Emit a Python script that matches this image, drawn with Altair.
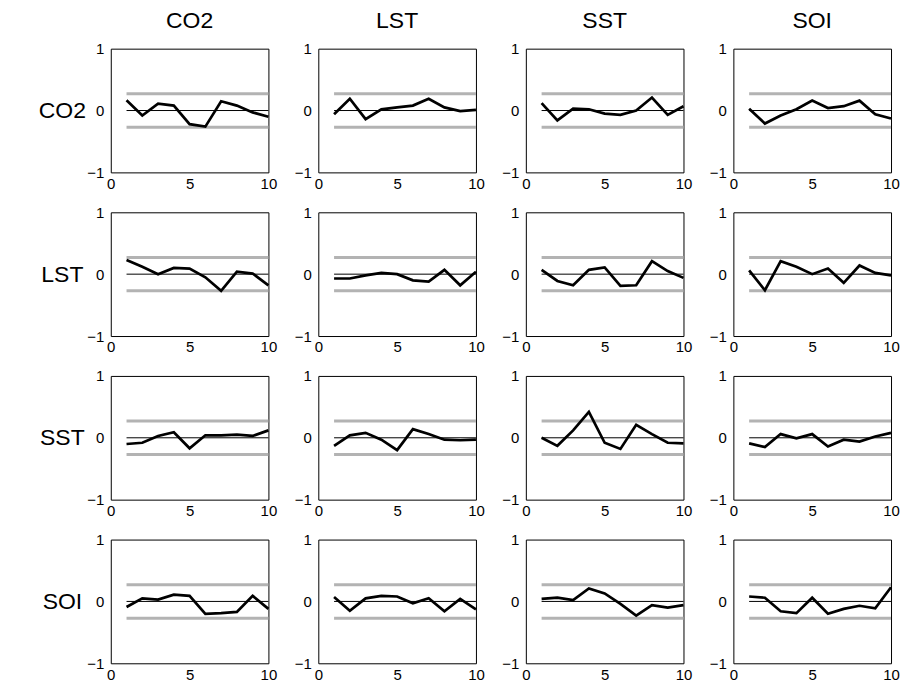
import altair as alt
import pandas as pd

variables = ["CO2", "LST", "SST", "SOI"]
lags = [1, 2, 3, 4, 5, 6, 7, 8, 9, 10]
conf_bound = 0.27

# cross-correlations: row variable vs column variable
ccf_CO2_CO2 = [0.165, -0.08, 0.11, 0.08, -0.22, -0.26, 0.15, 0.08, -0.03, -0.10]
ccf_CO2_LST = [-0.06, 0.19, -0.14, 0.02, 0.05, 0.08, 0.19, 0.05, -0.01, 0.01]
ccf_CO2_SST = [0.12, -0.16, 0.03, 0.02, -0.05, -0.07, 0.00, 0.21, -0.07, 0.07]
ccf_CO2_SOI = [0.03, -0.21, -0.08, 0.02, 0.16, 0.04, 0.07, 0.16, -0.06, -0.13]

ccf_LST_CO2 = [0.23, 0.12, 0.00, 0.10, 0.09, -0.05, -0.27, 0.04, 0.01, -0.18]
ccf_LST_LST = [-0.07, -0.07, -0.02, 0.02, 0.00, -0.10, -0.12, 0.07, -0.18, 0.04]
ccf_LST_SST = [0.07, -0.11, -0.18, 0.07, 0.11, -0.19, -0.18, 0.21, 0.05, -0.06]
ccf_LST_SOI = [0.06, -0.26, 0.21, 0.12, 0.00, 0.09, -0.14, 0.14, 0.02, -0.02]

ccf_SST_CO2 = [-0.10, -0.08, 0.03, 0.09, -0.17, 0.04, 0.04, 0.05, 0.03, 0.12]
ccf_SST_LST = [-0.13, 0.04, 0.08, -0.03, -0.20, 0.14, 0.06, -0.03, -0.04, -0.03]
ccf_SST_SST = [0.00, -0.13, 0.12, 0.42, -0.08, -0.18, 0.21, 0.06, -0.08, -0.09]
ccf_SST_SOI = [-0.09, -0.15, 0.06, -0.01, 0.06, -0.14, -0.03, -0.06, 0.02, 0.08]

ccf_SOI_CO2 = [-0.09, 0.05, 0.03, 0.11, 0.09, -0.20, -0.19, -0.17, 0.09, -0.12]
ccf_SOI_LST = [0.07, -0.15, 0.05, 0.09, 0.08, -0.03, 0.05, -0.16, 0.04, -0.13]
ccf_SOI_SST = [0.04, 0.06, 0.02, 0.21, 0.13, -0.04, -0.23, -0.06, -0.10, -0.06]
ccf_SOI_SOI = [0.08, 0.06, -0.16, -0.19, 0.06, -0.20, -0.12, -0.07, -0.11, 0.23]

series = {
    ("CO2", "CO2"): ccf_CO2_CO2, ("CO2", "LST"): ccf_CO2_LST,
    ("CO2", "SST"): ccf_CO2_SST, ("CO2", "SOI"): ccf_CO2_SOI,
    ("LST", "CO2"): ccf_LST_CO2, ("LST", "LST"): ccf_LST_LST,
    ("LST", "SST"): ccf_LST_SST, ("LST", "SOI"): ccf_LST_SOI,
    ("SST", "CO2"): ccf_SST_CO2, ("SST", "LST"): ccf_SST_LST,
    ("SST", "SST"): ccf_SST_SST, ("SST", "SOI"): ccf_SST_SOI,
    ("SOI", "CO2"): ccf_SOI_CO2, ("SOI", "LST"): ccf_SOI_LST,
    ("SOI", "SST"): ccf_SOI_SST, ("SOI", "SOI"): ccf_SOI_SOI,
}

records = []
for (r, c), vals in series.items():
    for lag, v in zip(lags, vals):
        records.append({"row": r, "col": c, "lag": lag, "value": v})
df = pd.DataFrame(records)

FONT = "Liberation Sans"
PW, PH = 158, 124
x_scale = alt.Scale(domain=[0, 10], nice=False)
y_scale = alt.Scale(domain=[-1, 1], nice=False)
x_axis = alt.Axis(values=[0, 5, 10], title=None, labelFlush=False, format=".0f",
                  labelOverlap=False, labelPadding=4)


def make_panel(r, c, first_col, first_row):
    if first_col:
        y_axis = alt.Axis(values=[-1, 0, 1], title=r, labelFlush=False, format=".0f",
                          labelOverlap=False, labelPadding=7,
                          titleAngle=0, titleAlign="center", titleBaseline="middle",
                          titleX=-49, titleY=PH / 2, titleFont=FONT,
                          titleFontSize=23, titleFontWeight="normal",
                          titleColor="black")
    else:
        y_axis = alt.Axis(values=[-1, 0, 1], title=None, labelFlush=False,
                          format=".0f", labelOverlap=False, labelPadding=7)

    def X(field):
        return alt.X(field, type="quantitative", scale=x_scale, axis=x_axis)

    def Y(field):
        return alt.Y(field, type="quantitative", scale=y_scale, axis=y_axis)

    refs = alt.Chart().transform_filter(alt.datum.lag == lags[0]).transform_calculate(
        x_end=str(lags[-1]), up=str(conf_bound), lo=str(-conf_bound), zero="0")
    grey_up = refs.mark_rule(color="#b3b3b3", strokeWidth=3).encode(
        x=X("lag"), x2="x_end:Q", y=Y("up"))
    grey_lo = refs.mark_rule(color="#b3b3b3", strokeWidth=3).encode(
        x=X("lag"), x2="x_end:Q", y=Y("lo"))
    zero = refs.mark_rule(color="black", strokeWidth=1).encode(
        x=X("lag"), x2="x_end:Q", y=Y("zero"))
    line = alt.Chart().mark_line(color="black", strokeWidth=2.7).encode(
        x=X("lag"), y=Y("value"))
    panel = alt.layer(grey_up, grey_lo, zero, line).transform_filter(
        (alt.datum.row == r) & (alt.datum.col == c))
    if first_row:
        panel = panel.properties(width=PW, height=PH, title=alt.TitleParams(
            c, font=FONT, fontSize=23, fontWeight="normal", color="black",
            anchor="middle", baseline="top", offset=9))
    else:
        panel = panel.properties(width=PW, height=PH)
    return panel


panels = []
for i, r in enumerate(variables):
    for j, c in enumerate(variables):
        panels.append(make_panel(r, c, j == 0, i == 0))

chart = alt.ConcatChart(
    concat=panels, columns=4, data=df,
    spacing=alt.RowColnumber(row=40, column=50), bounds="flush",
).properties(
    background="white", padding={"left": 29, "top": 0, "right": 0, "bottom": 0}
).configure_view(
    stroke="black", strokeWidth=1
).configure_axis(
    grid=False, domain=False, ticks=False, labelFont=FONT, labelFontSize=15,
    labelColor="black"
)

chart.save("out.html", embed_options={"renderer": "svg", "actions": False})
